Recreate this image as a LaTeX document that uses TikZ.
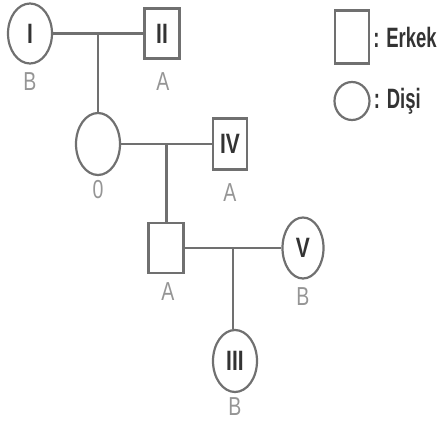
\documentclass[tikz,border=0pt]{standalone}
\usepackage{fontspec}
\setmainfont[FakeStretch=0.75]{Liberation Sans}
\newfontfamily\legfont[FakeStretch=0.66]{Liberation Sans}
\usetikzlibrary{shapes.geometric,calc}
\definecolor{lncol}{HTML}{707070}
\definecolor{lbcol}{HTML}{959595}
\definecolor{txcol}{HTML}{333333}
\begin{document}
\begin{tikzpicture}[x=1pt,y=-1pt,
  fem/.style={ellipse,draw=lncol,line width=2.2pt,inner sep=0,text=txcol,font=\bfseries\fontsize{28}{28}\selectfont},
  mal/.style={rectangle,draw=lncol,line width=2.2pt,inner sep=0,minimum width=35pt,minimum height=50pt,text=txcol,font=\bfseries\fontsize{28}{28}\selectfont},
  lbl/.style={text=lbcol,inner sep=0,font=\fontsize{26}{26}\selectfont},
  leg/.style={text=txcol,inner sep=0,anchor=west,font=\legfont\bfseries\fontsize{28}{28}\selectfont},
  conn/.style={draw=lncol,line width=2.2pt}]
\useasboundingbox (0,0) rectangle (445,423);
% individuals
\node[fem,minimum width=44pt,minimum height=60pt] (I) at (30,33.5) {I};
\node[mal] (II) at (162,33.5) {II};
\node[fem,minimum width=44pt,minimum height=62pt] (O) at (98,144) {};
\node[mal,minimum width=34pt,minimum height=51pt] (IV) at (230,144) {IV};
\node[mal] (S) at (166,248) {};
\node[fem,minimum width=41pt,minimum height=61pt] (V) at (303,248) {V};
\node[fem,minimum width=44pt,minimum height=62pt] (III) at (235,361) {III};
% blood group labels
\node[lbl] (lI) at (30,82) {B};
\node[lbl] (lII) at (163,82) {A};
\node[lbl] (lO) at (98,190) {0};
\node[lbl] (lIV) at (230,193) {A};
\node[lbl] (lS) at (168,292) {A};
\node[lbl] (lV) at (303,297) {B};
\node[lbl] (lIII) at (235,407) {B};
% connectors
\coordinate (m1) at ($(I.east)!0.5!(II.west)$);
\coordinate (m2) at ($(O.east)!0.5!(IV.west)$);
\coordinate (m3) at ($(S.east)!0.5!(V.west)$);
\draw[conn] (I.east) -- (II.west);
\draw[conn] (m1) -- (m1 |- O.north);
\draw[conn] (O.east) -- (IV.west);
\draw[conn] (m2) -- (m2 |- S.north);
\draw[conn] (S.east) -- (V.west);
\draw[conn] (m3) -- (m3 |- III.north);
% legend
\node[mal,minimum width=34pt,minimum height=53pt] (LM) at (352,37) {};
\node[fem,minimum width=35pt,minimum height=38pt] (LF) at (352,101) {};
\node[leg] (tM) at ([xshift=3pt]LM.east) {: Erkek};
\node[leg] (tF) at ([xshift=3pt]LF.east) {: Dişi};
\end{tikzpicture}
\end{document}
